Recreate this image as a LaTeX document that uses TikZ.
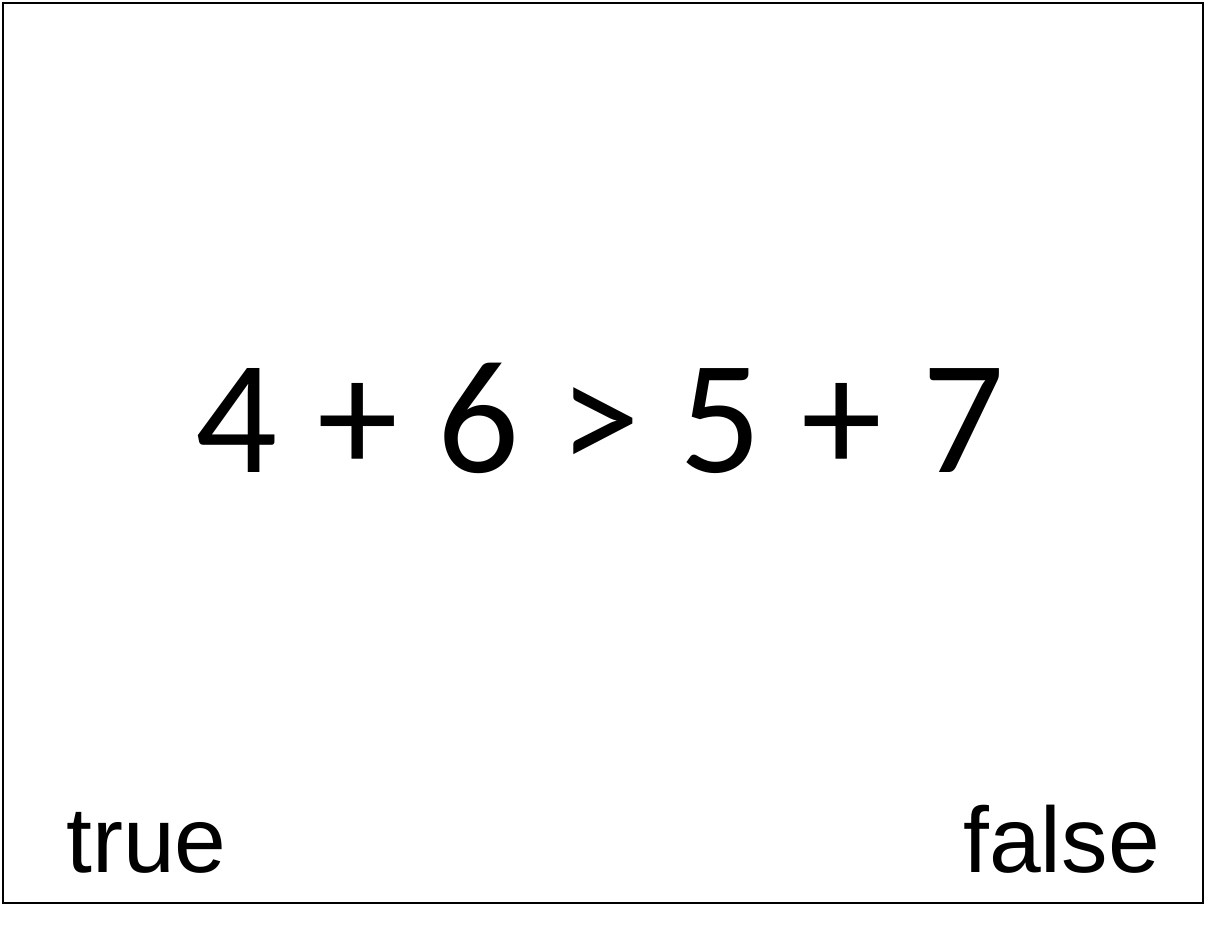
\documentclass[tikz,border=0pt]{standalone}
\usepackage{fontspec}
\setmainfont{Liberation Sans}
\newfontfamily\eqfont{Carlito}
\begin{document}
\begin{tikzpicture}[x=1pt,y=-1pt,
  eqtext/.style={inner sep=0pt,font=\eqfont\fontsize{162}{176}\selectfont},
  lbltext/.style={inner sep=0pt,font=\fontsize{93}{100}\selectfont}]
\useasboundingbox (0,0) rectangle (1214,947);
\node[draw,line width=2pt,minimum width=1200pt,minimum height=900pt,inner sep=0pt,anchor=north west] (frame) at (2,2) {};
\node[eqtext,anchor=base] (eq) at (600,472) {\spaceskip=0.245em 4 + 6 > 5 + 7};
\node[lbltext,anchor=base west] (true) at (66,872) {true};
\node[lbltext,anchor=base east] (false) at (1160,872) {false};
\end{tikzpicture}
\end{document}
